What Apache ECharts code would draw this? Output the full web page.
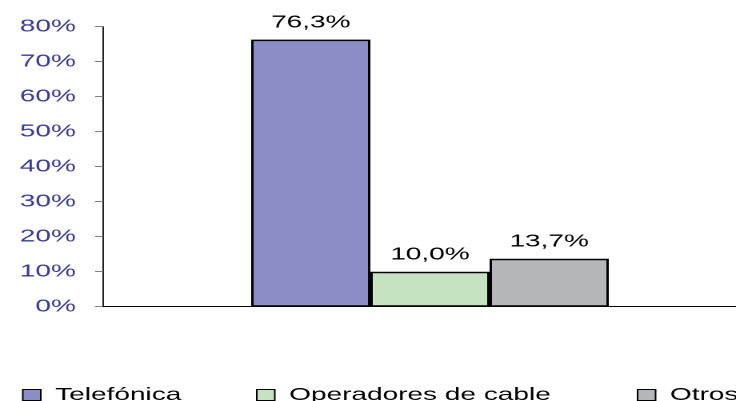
<!DOCTYPE html>
<html><head><meta charset="utf-8">
<script src="https://cdn.jsdelivr.net/npm/echarts@6/dist/echarts.min.js"></script>
<style>
html,body{margin:0;padding:0;overflow:hidden;background:#fff;width:736px;height:401px}
#c{width:480px;height:401px;transform:scaleX(1.6);transform-origin:0 0;}
</style>
</head><body><div id="c"></div>
<script>
const categories = ['Cuota'];
const seriesNames = ['Telefónica', 'Operadores de cable', 'Otros'];
const telefonica = [76.3];
const cable = [10.0];
const otros = [13.7];
const yMin = 0, yMax = 80, yStep = 10;

const FONT = 'Liberation Sans, Arial, sans-serif';
const colors = ['#8B8EC6', '#C5E3C1', '#B5B6BA'];
const values = [telefonica, cable, otros];
const legendLeft = [13.75, 160, 398];

const chart = echarts.init(document.getElementById('c'), null, {renderer: 'canvas', devicePixelRatio: 2});
const fmt = v => v.toFixed(1).replace('.', ',') + '%';

chart.setOption({
  animation: false,
  backgroundColor: '#fff',
  grid: {left: 64.4, right: 6.9, top: 26.7, bottom: 94.3, containLabel: false},
  legend: seriesNames.map((n, i) => ({
    data: [n], left: legendLeft[i], top: 386, padding: 0,
    icon: 'rect', itemWidth: 11.25, itemHeight: 11,
    itemStyle: {borderColor: '#000', borderWidth: 1},
    textStyle: {fontFamily: FONT, fontSize: 17.5, color: '#000', padding: [4, 0, 0, 4]}
  })),
  xAxis: {
    type: 'category', data: categories,
    axisLine: {lineStyle: {color: '#000', width: 1}},
    axisTick: {show: false}, axisLabel: {show: false}, splitLine: {show: false}
  },
  yAxis: {
    type: 'value', min: yMin, max: yMax, interval: yStep,
    axisLine: {show: true, lineStyle: {color: '#222', width: 1}},
    axisTick: {show: true, length: 5, lineStyle: {color: '#808080'}},
    splitLine: {show: false},
    axisLabel: {formatter: '{value}%', fontFamily: FONT, fontSize: 17.5, color: '#3B3B98', margin: 17, padding: [3, 0, 0, 0]}
  },
  series: seriesNames.map((n, i) => ({
    name: n, type: 'bar', data: values[i],
    barWidth: 74.5, barGap: '0%',
    itemStyle: {color: colors[i], borderColor: '#000', borderWidth: 1.5},
    label: {show: true, position: 'top', distance: 8, formatter: p => fmt(p.value),
      fontFamily: FONT, fontSize: 17.5, color: '#000'}
  }))
});
</script>
</body></html>
